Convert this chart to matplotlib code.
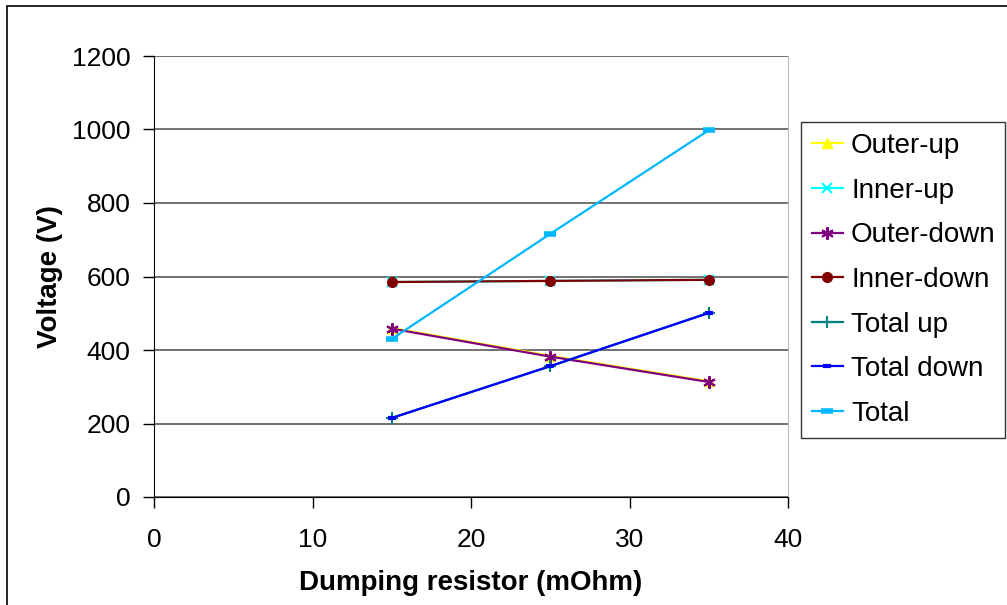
import matplotlib
matplotlib.use("Agg")
import matplotlib.pyplot as plt
from matplotlib.patches import Rectangle

plt.rcParams["font.family"] = ["Liberation Sans", "DejaVu Sans"]

# Dumping resistor values (mOhm)
resistor = [15, 25, 35]

outer_up = [460, 384, 315]
inner_up = [585, 588, 591]
outer_down = [458, 382, 313]
inner_down = [585, 588, 591]
total_up = [215, 356, 501]
total_down = [215, 356, 501]
total = [430, 716, 998]

series = [
    ("Outer-up", outer_up, "#FFFF00", "^", 7, 1.0, 1.6),
    ("Inner-up", inner_up, "#00FFFF", "x", 7, 1.5, 1.6),
    ("Outer-down", outer_down, "#800080", (6, 2, 0), 9, 1.5, 1.6),
    ("Inner-down", inner_down, "#800000", "o", 7, 1.0, 1.6),
    ("Total up", total_up, "#008080", "+", 9, 1.5, 1.6),
    ("Total down", total_down, "#0000FF", "_", 6, 3.0, 1.6),
    ("Total", total, "#00B8FF", "_", 9, 4.0, 1.6),
]

fig = plt.figure(figsize=(10.07, 6.05), dpi=100)
ax = fig.add_axes([154 / 1007, 108 / 605, 634 / 1007, 441 / 605])

for name, vals, color, marker, ms, mew, lw in series:
    ax.plot(resistor, vals, color=color, lw=lw, marker=marker, ms=ms,
            mew=mew, mfc=color, mec=color, label=name, clip_on=False)

ax.set_xlim(0, 40)
ax.set_ylim(0, 1200)
ax.set_xticks([0, 10, 20, 30, 40])
ax.set_yticks(range(0, 1201, 200))
ax.grid(True, axis="y", color="#666666", lw=1.3)
ax.set_axisbelow(True)

ax.spines["top"].set_visible(False)
ax.spines["right"].set_color("#BBBBBB")
ax.spines["left"].set_color("black")
ax.spines["bottom"].set_color("black")
ax.tick_params(direction="out", length=8, width=1, labelsize=19, colors="black")
ax.tick_params(axis="x", pad=14)
ax.tick_params(axis="y", pad=9)

ax.set_xlabel("Dumping resistor (mOhm)", fontsize=20, fontweight="bold", labelpad=13)
ax.set_ylabel("Voltage (V)", fontsize=20, fontweight="bold", labelpad=6)

leg = fig.legend(loc="upper left",
                 bbox_to_anchor=(801 / 1007, 1 - 437 / 605, 204 / 1007, 315 / 605),
                 mode="expand", fontsize=20, frameon=True, fancybox=False,
                 edgecolor="black", borderpad=0.4, labelspacing=0.67,
                 handlelength=1.1, handletextpad=0.3, borderaxespad=0)
leg.get_frame().set_linewidth(1.0)

# chart area border
fig.patches.append(Rectangle((7 / 1007, -0.1), 1.2, 1 - 6 / 605 + 0.1,
                             transform=fig.transFigure, fill=False,
                             edgecolor="black", lw=1.2))

fig.savefig("out.png", dpi=100)
